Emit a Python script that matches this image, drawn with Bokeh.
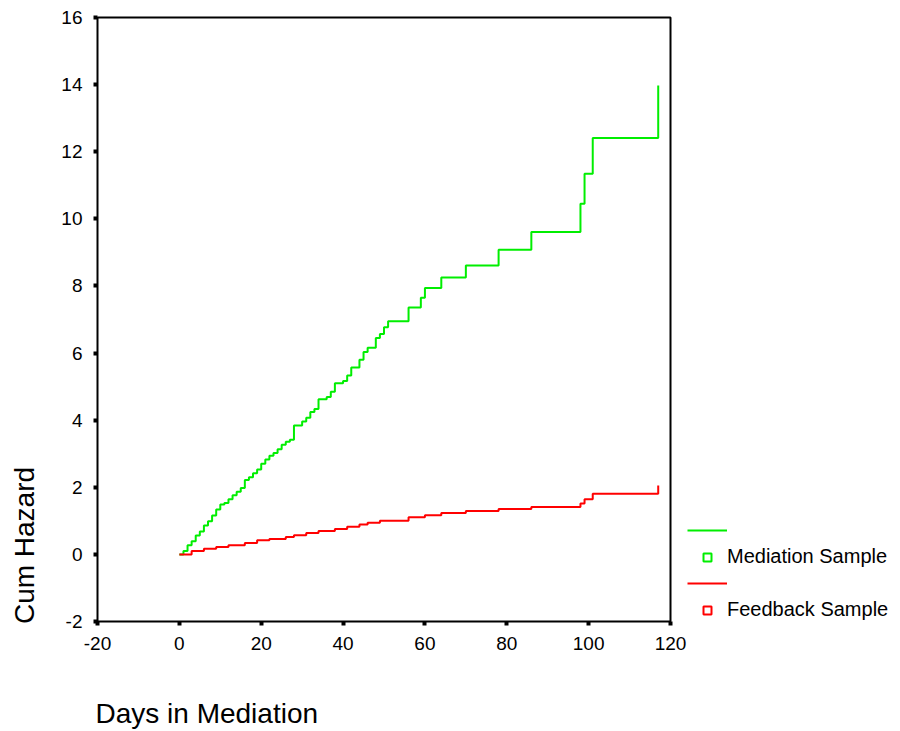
from math import pi
from bokeh.plotting import figure
from bokeh.models import (Range1d, FixedTicker, Legend, LegendItem, Label,
                          BoxAnnotation)
from bokeh.embed import file_html
from bokeh.resources import INLINE

# ---- data ----
days_mediation = [0, 1, 2, 3, 4, 5, 6, 7, 8, 9, 10, 11, 12, 13, 14, 15, 16, 17, 18, 19, 20,
                  21, 22, 23, 24, 25, 26, 27, 28, 30, 31, 32, 33, 34, 36, 37, 38, 40, 41, 42,
                  44, 45, 46, 48, 49, 50, 51, 56, 59, 60, 64, 70, 78, 86, 98, 99, 101, 117]
hazard_mediation = [0, 0.10, 0.27, 0.39, 0.56, 0.68, 0.86, 0.99, 1.16, 1.34, 1.49, 1.53, 1.64,
                    1.76, 1.87, 1.98, 2.22, 2.30, 2.42, 2.53, 2.70, 2.83, 2.94, 3.02, 3.13, 3.27,
                    3.36, 3.42, 3.84, 3.96, 4.07, 4.24, 4.33, 4.62, 4.69, 4.85, 5.10, 5.17, 5.33,
                    5.57, 5.80, 6.03, 6.16, 6.45, 6.57, 6.77, 6.95, 7.36, 7.65, 7.94, 8.25, 8.61,
                    9.08, 9.61, 10.45, 11.34, 12.41, 13.97]

days_feedback = [0, 3, 6, 9, 12, 16, 19, 22, 26, 28, 31, 34, 38, 41, 44, 46, 49, 56, 60, 64,
                 70, 78, 86, 98, 99, 101, 117]
hazard_feedback = [0, 0.10, 0.17, 0.22, 0.27, 0.34, 0.42, 0.46, 0.52, 0.57, 0.64, 0.70, 0.76,
                   0.82, 0.89, 0.94, 1.00, 1.11, 1.17, 1.23, 1.29, 1.35, 1.41, 1.52, 1.64, 1.81,
                   2.05]

series_names = ["Mediation Sample", "Feedback Sample"]
x_ticks = [-20, 0, 20, 40, 60, 80, 100, 120]
y_ticks = [-2, 0, 2, 4, 6, 8, 10, 12, 14, 16]
x_title = "Days in Mediation"
y_title = "Cum Hazard"

GREEN = "#00ee00"
RED = "#ff0000"
FONT = "Liberation Sans"

# ---- layout (pixels) ----
W, H = 900, 731
BOX_L, BOX_R, BOX_T, BOX_B = 97, 670, 17, 621   # plot box edges on the canvas
x0, x1 = x_ticks[0], x_ticks[-1]
y0, y1 = y_ticks[0], y_ticks[-1]
sx = (BOX_R - BOX_L) / (x1 - x0)
sy = (BOX_B - BOX_T) / (y1 - y0)
x_range = Range1d(x0 - BOX_L / sx, x1 + (W - BOX_R) / sx)
y_range = Range1d(y0 - (H - BOX_B) / sy, y1 + BOX_T / sy)

p = figure(width=W, height=H, x_range=x_range, y_range=y_range,
           output_backend="svg", toolbar_location=None,
           min_border_left=0, min_border_right=0,
           min_border_top=0, min_border_bottom=0)

p.background_fill_color = "white"
p.border_fill_color = "white"
p.outline_line_color = None
p.xgrid.visible = False
p.ygrid.visible = False

p.xaxis.fixed_location = y0
p.yaxis.fixed_location = x0
for ax, ticks in ((p.xaxis, x_ticks), (p.yaxis, y_ticks)):
    ax.ticker = FixedTicker(ticks=ticks)
    ax.major_label_overrides = {t: str(t) for t in ticks}
    ax.minor_tick_line_color = None
    ax.major_tick_in = 0
    ax.major_tick_out = 4
    ax.major_tick_line_width = 4
    ax.major_tick_line_color = "black"
    ax.axis_line_color = None
    ax.major_label_text_font = FONT
    ax.major_label_text_font_size = "19px"
    ax.major_label_text_color = "black"
p.xaxis.major_label_standoff = 11
p.yaxis.major_label_standoff = 11

# plot box
p.add_layout(BoxAnnotation(left=x0, right=x1, bottom=y0, top=y1,
                           fill_alpha=0, line_color="black", line_alpha=1,
                           line_width=2))

r_med = p.step(days_mediation, hazard_mediation, mode="after",
               line_color=GREEN, line_width=2)
r_fb = p.step(days_feedback, hazard_feedback, mode="after",
              line_color=RED, line_width=2)

nan = float("nan")
sq_med = p.scatter(x=[nan], y=[nan], marker="square", size=7,
                   line_color=GREEN, fill_color=None, line_width=2)
sq_fb = p.scatter(x=[nan], y=[nan], marker="square", size=7,
                  line_color=RED, fill_color=None, line_width=2)

legend = Legend(items=[LegendItem(label="", renderers=[r_med]),
                       LegendItem(label=series_names[0], renderers=[sq_med]),
                       LegendItem(label="", renderers=[r_fb]),
                       LegendItem(label=series_names[1], renderers=[sq_fb])],
                location=(687, H - 621), glyph_width=40, glyph_height=20,
                label_height=20, spacing=5, padding=0, margin=0,
                label_standoff=0,
                border_line_color=None, background_fill_alpha=0,
                label_text_font=FONT, label_text_font_size="20px",
                label_text_color="black")
p.add_layout(legend, "center")

p.add_layout(Label(x=24, y=H - 545, x_units="screen", y_units="screen",
                   text=y_title, angle=pi / 2, text_align="center",
                   text_baseline="middle", text_font=FONT,
                   text_font_size="28px", text_color="black"))
p.add_layout(Label(x=95, y=H - 713, x_units="screen", y_units="screen",
                   text=x_title, text_align="left", text_baseline="alphabetic",
                   text_font=FONT, text_font_size="28px", text_color="black"))

open("out.html", "w").write(file_html(p, INLINE))
